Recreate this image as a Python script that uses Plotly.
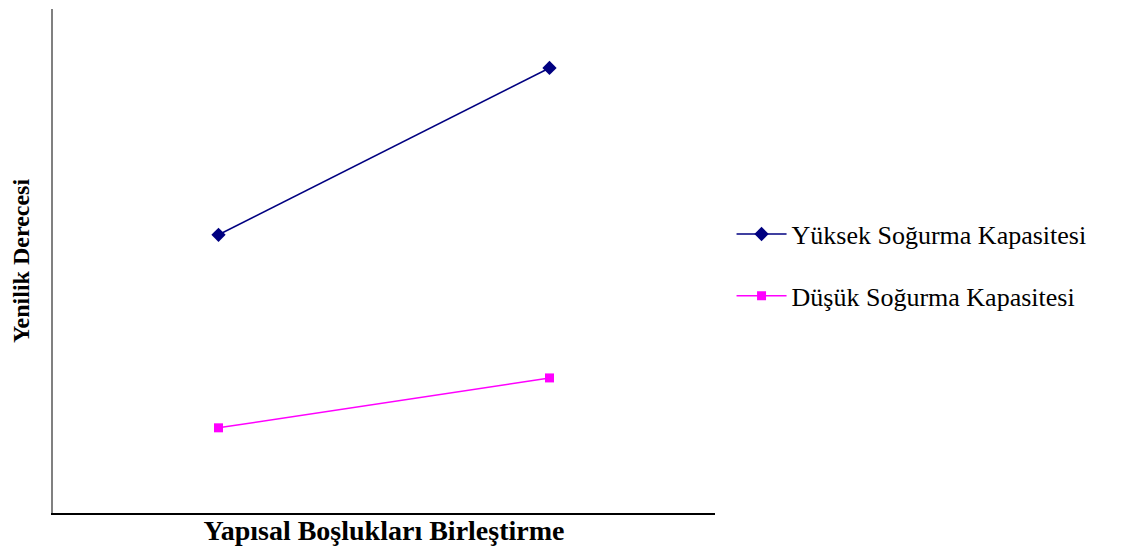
import plotly.graph_objects as go

categories = [0, 1]
yuksek = [5.52, 8.83]
dusuk = [1.69, 2.68]
series_names = ["Yüksek Soğurma Kapasitesi", "Düşük Soğurma Kapasitesi"]

fig = go.Figure()
fig.add_trace(go.Scatter(
    x=categories, y=yuksek, mode="lines+markers", name=series_names[0],
    line=dict(color="#000080", width=1.5),
    marker=dict(symbol="diamond", size=11, color="#000080"),
    legendgroup="a",
))
fig.add_trace(go.Scatter(
    x=categories, y=dusuk, mode="lines+markers", name=series_names[1],
    line=dict(color="#FF00FF", width=1.5),
    marker=dict(symbol="square", size=9, color="#FF00FF"),
    legendgroup="b",
))

fig.update_layout(
    width=1132, height=547,
    margin=dict(l=45, r=425, t=1, b=42),
    paper_bgcolor="white", plot_bgcolor="white",
    font=dict(family="Liberation Serif", color="black"),
    showlegend=True,
    legend=dict(
        x=1.025, xanchor="left", y=0.60, yanchor="top",
        font=dict(family="Liberation Serif", size=26, color="black"),
        itemwidth=50, tracegroupgap=25, traceorder="grouped",
        bgcolor="rgba(0,0,0,0)",
    ),
    xaxis=dict(
        range=[-0.5, 1.5], showgrid=False, zeroline=False,
        showline=True, linecolor="black", linewidth=1.5,
        showticklabels=False, ticks="",
        title=dict(text="<b>Yapısal Boşlukları Birleştirme</b>",
                   font=dict(family="Liberation Serif", size=28, color="black"),
                   standoff=7),
    ),
    yaxis=dict(
        range=[0, 10], showgrid=False, zeroline=False,
        showline=True, linecolor="#808080", linewidth=1.5,
        showticklabels=False, ticks="",
        title=dict(text="<b>Yenilik Derecesi</b>",
                   font=dict(family="Liberation Serif", size=24, color="black"),
                   standoff=19),
    ),
)

fig.write_html("out.html")
